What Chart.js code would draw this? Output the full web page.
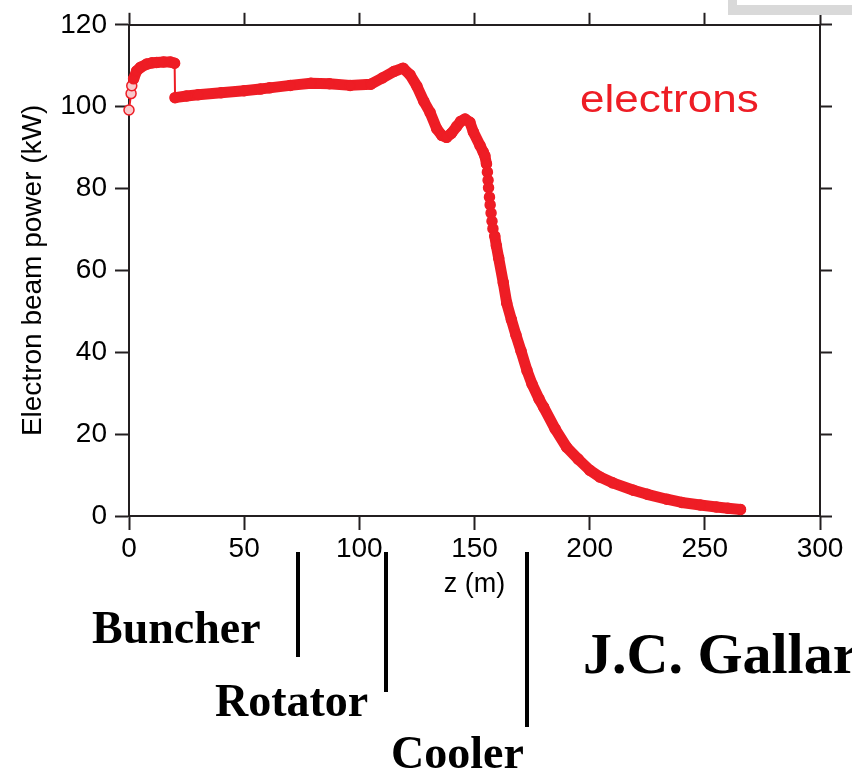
<!DOCTYPE html>
<html>
<head>
<meta charset="utf-8">
<script src="https://cdn.jsdelivr.net/npm/chart.js@4.4.1/dist/chart.umd.min.js"></script>
<style>
  html, body { margin: 0; padding: 0; background: #fff; }
  #wrap { position: relative; width: 852px; height: 770px; }
</style>
</head>
<body>
<div id="wrap"><canvas id="powerChart"></canvas></div>
<script>
// Position along the channel (m)
const zPositions = [
  0, 0.9, 1.2, 2, 3.3, 5, 7.7, 10, 12, 15, 18, 19.8,
  20, 25, 30, 40, 50, 57, 61, 70, 79, 87, 96, 105,
  110, 115, 119, 122, 125, 128, 130.7, 133.6, 135.8, 137.9, 140, 142.3,
  144, 145.9, 148, 149.5, 152.4, 153.8, 154.5, 155.2, 155.6, 155.9, 156.1, 156.5,
  156.8, 157.2, 157.6, 158, 158.8, 159.5, 160.5, 162.5, 164, 166, 168, 170.2,
  172.8, 175, 178, 180, 185, 190, 195, 200, 204.5, 210, 219, 225,
  233.5, 240, 248, 255, 260, 265.5
];

// Electron beam power (kW)
const beamPower = [
  99.2, 103.2, 105.1, 106.8, 108.7, 109.6, 110.4, 110.7, 110.8, 110.9, 110.9, 110.6,
  102.2, 102.6, 102.9, 103.4, 103.9, 104.3, 104.6, 105.2, 105.7, 105.6, 105.2, 105.5,
  107.0, 108.6, 109.4, 107.8, 105.0, 101.3, 98.6, 94.6, 93.0, 92.5, 93.5, 95.2,
  96.4, 97.0, 96.2, 93.8, 90.5, 88.9, 88.0, 86.0, 84.0, 82.0, 80.2, 77.9,
  76.0, 74.0, 72.0, 70.2, 68.4, 66.0, 63.0, 57.0, 52.0, 48.0, 44.2, 40.3,
  35.5, 32.2, 28.6, 26.6, 21.3, 16.8, 13.9, 11.2, 9.5, 8.1, 6.3, 5.3,
  4.1, 3.3, 2.7, 2.2, 1.9, 1.6
];

const zTicks = [0, 50, 100, 150, 200, 250, 300];
const powerTicks = [0, 20, 40, 60, 80, 100, 120];

// Stretches of the trace where the samples are sparse (drawn as a thin line)
const sparseStretches = [[0, 2], [19.8, 20], [155.2, 158.8]];

// Section boundaries along z
const sectionNames = ['Buncher', 'Rotator', 'Cooler'];
const sectionEnds = [73.4, 111.6, 172.8];

const RED = '#ee1d25';
const AXIS = '#231f20';

function isSparse(z0, z1) {
  return sparseStretches.some(([a, b]) => z0 >= a && z1 <= b);
}

function useTicks(values) {
  return scale => { scale.ticks = values.map(v => ({ value: v })); };
}

function frameAxis(position, extra) {
  return Object.assign({
    type: 'linear',
    position: position,
    border: { display: true, color: AXIS, width: 2 },
    grid: { drawOnChartArea: false, drawTicks: true, tickLength: 14, tickWidth: 2, tickColor: AXIS }
  }, extra);
}

// Slide decorations: section markers, labels and the boxed corner
const slideText = {
  id: 'slideText',
  afterDraw(chart) {
    const ctx = chart.ctx;
    const x = chart.scales.x;
    ctx.save();

    // grey frame peeking in at the top right
    ctx.fillStyle = '#d9d9d9';
    ctx.fillRect(728, 0, 124, 15);
    ctx.fillStyle = '#fff';
    ctx.fillRect(737, 0, 115, 5);

    // "electrons" label inside the plot
    ctx.fillStyle = RED;
    ctx.font = '38px "Liberation Sans", Arial, sans-serif';
    ctx.textBaseline = 'alphabetic';
    ctx.translate(580, 112);
    ctx.scale(1.16, 1);
    ctx.fillText('electrons', 0, 0);
    ctx.setTransform(1, 0, 0, 1, 0, 0);

    // section boundary markers
    const lineBottoms = [657, 692, 727];
    ctx.strokeStyle = '#000';
    ctx.lineWidth = 4;
    sectionEnds.forEach((z, i) => {
      const px = Math.round(x.getPixelForValue(z));
      ctx.beginPath();
      ctx.moveTo(px, 552);
      ctx.lineTo(px, lineBottoms[i]);
      ctx.stroke();
    });

    ctx.fillStyle = '#000';
    ctx.font = 'bold 46px "Liberation Serif", "Times New Roman", serif';
    ctx.textAlign = 'left';
    ctx.fillText(sectionNames[0], 92, 643);
    ctx.fillText(sectionNames[1], 215, 716);
    ctx.fillText(sectionNames[2], 391, 768);

    ctx.font = 'bold 58px "Liberation Serif", "Times New Roman", serif';
    ctx.fillText('J.C. Gallardo', 583, 673);
    ctx.restore();
  }
};

document.addEventListener('DOMContentLoaded', function () {
  const ctx = document.getElementById('powerChart').getContext('2d');
  Chart.defaults.font.family = '"Liberation Sans", Arial, sans-serif';
  Chart.defaults.color = '#000';

  const points = zPositions.map((z, i) => ({ x: z, y: beamPower[i] }));

  new Chart(ctx, {
    type: 'line',
    data: {
      datasets: [{
        label: 'electrons',
        data: points,
        borderColor: RED,
        backgroundColor: RED,
        borderWidth: 11,
        borderJoinStyle: 'round',
        borderCapStyle: 'round',
        tension: 0,
        pointRadius: 5,
        pointBorderWidth: 1.5,
        pointBorderColor: RED,
        pointBackgroundColor: c => c.dataIndex < 3 ? '#f8c9cb' : RED,
        clip: false,
        segment: {
          borderWidth: s => isSparse(s.p0.parsed.x, s.p1.parsed.x) ? 2 : 11
        }
      }]
    },
    options: {
      responsive: true,
      maintainAspectRatio: false,
      animation: false,
      layout: { padding: { left: 0, top: 0, right: 0, bottom: 164 } },
      plugins: {
        legend: { display: false },
        tooltip: { enabled: false }
      },
      scales: {
        x: frameAxis('bottom', {
          min: 0, max: 300,
          afterBuildTicks: useTicks(zTicks),
          afterFit: s => { s.height = 90; },
          ticks: { font: { size: 28 }, padding: 2, maxRotation: 0, autoSkip: false },
          title: { display: true, text: 'z (m)', font: { size: 27 }, padding: { bottom: 5 } }
        }),
        xTop: frameAxis('top', {
          min: 0, max: 300,
          afterBuildTicks: useTicks(zTicks),
          afterFit: s => { s.height = 22; },
          grid: { drawOnChartArea: false, drawTicks: true, tickLength: 12, tickWidth: 2, tickColor: AXIS },
          ticks: { display: false }
        }),
        y: frameAxis('left', {
          min: 0, max: 120,
          afterBuildTicks: useTicks(powerTicks),
          afterFit: s => { s.width = 129; },
          ticks: { font: { size: 28 }, padding: 8 },
          title: { display: true, text: 'Electron beam power (kW)', font: { size: 28 }, padding: { top: 16 } }
        }),
        yRight: frameAxis('right', {
          min: 0, max: 120,
          afterBuildTicks: useTicks(powerTicks),
          afterFit: s => { s.width = 32; },
          grid: { drawOnChartArea: false, drawTicks: true, tickLength: 12, tickWidth: 2, tickColor: AXIS },
          ticks: { display: false }
        })
      }
    },
    plugins: [slideText]
  });
});
</script>
</body>
</html>
